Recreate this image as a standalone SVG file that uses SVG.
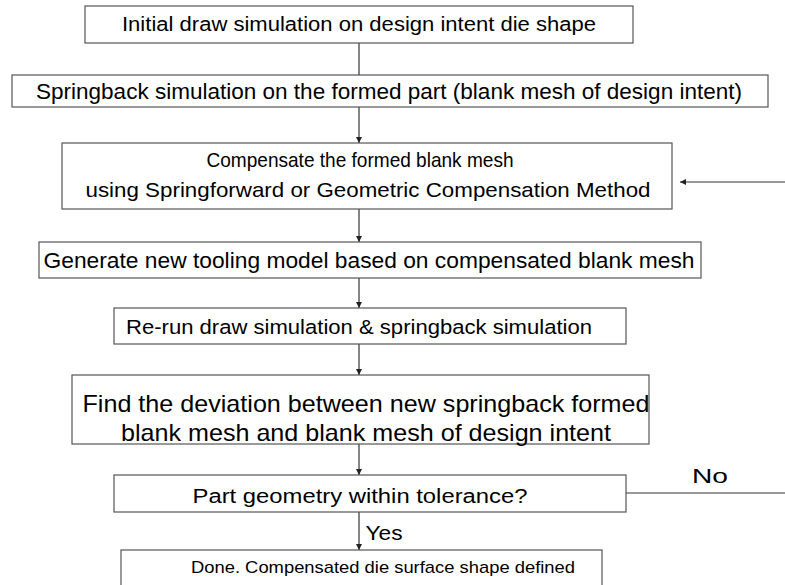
<svg xmlns="http://www.w3.org/2000/svg" width="785" height="585" viewBox="0 0 785 585">
<style>
.box{fill:#fff;stroke:#555;stroke-width:1.2}
.t{font-family:"Liberation Sans",Arial,sans-serif;fill:#000;text-anchor:middle}
.c{stroke:#333;stroke-width:1.2;fill:none}
</style>
<defs>
<marker id="ah" viewBox="0 0 10 10" refX="10" refY="5" markerWidth="6" markerHeight="10" markerUnits="userSpaceOnUse" orient="auto">
<path d="M0,0 L10,5 L0,10 Z" fill="#222"/>
</marker>
</defs>
<rect width="785" height="585" fill="#fff"/>
<g id="connectors">
<line class="c" x1="359" y1="43" x2="359" y2="75"/>
<line class="c" x1="359" y1="107" x2="359" y2="143" marker-end="url(#ah)"/>
<line class="c" x1="359" y1="209" x2="359" y2="242" marker-end="url(#ah)"/>
<line class="c" x1="359" y1="278" x2="359" y2="308" marker-end="url(#ah)"/>
<line class="c" x1="359" y1="344" x2="359" y2="375" marker-end="url(#ah)"/>
<line class="c" x1="359" y1="444" x2="359" y2="475" marker-end="url(#ah)"/>
<line class="c" x1="359" y1="512" x2="359" y2="550" marker-end="url(#ah)"/>
<line class="c" x1="785" y1="182" x2="680" y2="182" marker-end="url(#ah)"/>
<line class="c" x1="626" y1="493" x2="785" y2="493"/>
<text class="t" x="710" y="483" font-size="21" textLength="36" lengthAdjust="spacingAndGlyphs">No</text>
<text class="t" x="384" y="540" font-size="21" textLength="37" lengthAdjust="spacingAndGlyphs">Yes</text>
</g>
<g id="n1"><rect class="box" x="85" y="6" width="548" height="37"/>
<text class="t" x="359" y="31" font-size="19.5" textLength="474" lengthAdjust="spacingAndGlyphs">Initial draw simulation on design intent die shape</text></g>
<g id="n2"><rect class="box" x="12" y="75" width="756" height="32"/>
<text class="t" x="389" y="99" font-size="22" textLength="706" lengthAdjust="spacingAndGlyphs">Springback simulation on the formed part (blank mesh of design intent)</text></g>
<g id="n3"><rect class="box" x="62" y="143" width="610" height="66"/>
<text class="t" x="360" y="167" font-size="21" textLength="307" lengthAdjust="spacingAndGlyphs">Compensate the formed blank mesh</text>
<text class="t" x="368" y="197" font-size="21" textLength="565" lengthAdjust="spacingAndGlyphs">using Springforward or Geometric Compensation Method</text></g>
<g id="n4"><rect class="box" x="39" y="242" width="662" height="36"/>
<text class="t" x="369" y="268" font-size="22" textLength="651" lengthAdjust="spacingAndGlyphs">Generate new tooling model based on compensated blank mesh</text></g>
<g id="n5"><rect class="box" x="114" y="308" width="512" height="36"/>
<text class="t" x="359" y="334" font-size="20.5" textLength="466" lengthAdjust="spacingAndGlyphs">Re-run draw simulation &amp; springback simulation</text></g>
<g id="n6"><rect class="box" x="72" y="375" width="577" height="69"/>
<text class="t" x="366" y="412" font-size="24" textLength="567" lengthAdjust="spacingAndGlyphs">Find the deviation between new springback formed</text>
<text class="t" x="366" y="441" font-size="24" textLength="490" lengthAdjust="spacingAndGlyphs">blank mesh and blank mesh of design intent</text></g>
<g id="n7"><rect class="box" x="114" y="475" width="512" height="37"/>
<text class="t" x="360" y="503" font-size="20" textLength="335" lengthAdjust="spacingAndGlyphs">Part geometry within tolerance?</text></g>
<g id="n8"><rect class="box" x="121" y="550" width="481" height="50"/>
<text class="t" x="383" y="573" font-size="17" textLength="384" lengthAdjust="spacingAndGlyphs">Done. Compensated die surface shape defined</text></g>
</svg>
